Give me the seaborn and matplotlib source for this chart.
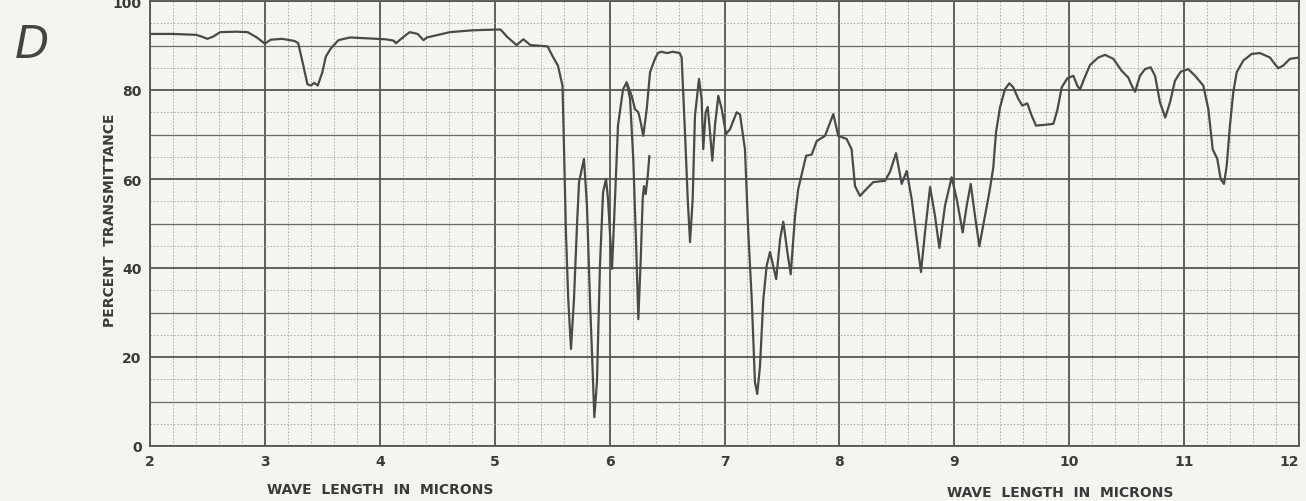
import matplotlib
matplotlib.use("Agg")
import matplotlib.pyplot as plt
import pandas as pd
import seaborn as sns
from matplotlib.ticker import MultipleLocator

# first pen trace (ends in the short retrace near 6.3 microns)
wl_a = [2.00, 2.20, 2.40, 2.45, 2.50, 2.55, 2.61, 2.75, 2.85, 2.93, 3.00, 3.05,
        3.15, 3.26, 3.29, 3.33, 3.37, 3.40, 3.43, 3.46, 3.50, 3.53, 3.57, 3.64,
        3.74, 3.90, 4.05, 4.12, 4.14, 4.20, 4.26, 4.33, 4.38, 4.41, 4.61, 4.80,
        4.90, 5.05, 5.11, 5.19, 5.25, 5.31, 5.46, 5.51, 5.55, 5.59, 5.60, 5.62,
        5.64, 5.664, 5.69, 5.716, 5.734, 5.777, 5.803, 5.829, 5.856, 5.867, 5.89,
        5.916, 5.943, 5.969, 5.986, 6.021, 6.047, 6.073, 6.117, 6.149, 6.178,
        6.206, 6.230, 6.250, 6.271, 6.288, 6.299, 6.314, 6.332, 6.346]
tr_a = [92.6, 92.6, 92.4, 92.0, 91.5, 92.0, 93.0, 93.1, 93.0, 91.8, 90.4, 91.3,
        91.5, 91.0, 90.5, 86.0, 81.3, 81.0, 81.6, 81.0, 84.0, 87.5, 89.2, 91.2,
        91.8, 91.6, 91.4, 91.1, 90.5, 91.8, 93.0, 92.6, 91.2, 91.8, 93.0, 93.4,
        93.5, 93.6, 91.9, 90.1, 91.4, 90.1, 89.8, 87.3, 85.5, 81.0, 70.5, 48.0,
        33.0, 21.8, 33.0, 49.5, 59.3, 64.5, 54.0, 33.0, 14.4, 6.5, 14.4,
        40.5, 57.0, 60.0, 55.5, 39.8, 55.5, 72.0, 80.2, 81.7, 78.0,
        64.5, 45.8, 28.5, 42.0, 55.5, 58.4, 56.6, 60.7, 65.2]

# second pen trace, 6.15 to 12 microns
wl_b = [6.149, 6.192, 6.221, 6.250, 6.271, 6.293, 6.323, 6.352, 6.395, 6.42,
        6.45, 6.50, 6.55, 6.61, 6.627, 6.656, 6.680, 6.700, 6.723, 6.743, 6.778,
        6.801, 6.815, 6.836, 6.854, 6.874, 6.894, 6.917, 6.946, 6.976, 7.013,
        7.048, 7.106, 7.135, 7.178, 7.207, 7.237, 7.265, 7.285, 7.309, 7.338,
        7.367, 7.396, 7.45, 7.484, 7.512, 7.547, 7.576, 7.614, 7.642, 7.710,
        7.759, 7.802, 7.875, 7.947, 7.990, 8.063, 8.106, 8.136, 8.179, 8.237,
        8.295, 8.397, 8.44, 8.493, 8.542, 8.586, 8.629, 8.673, 8.710, 8.745,
        8.789, 8.832, 8.870, 8.919, 8.977, 9.021, 9.073, 9.108, 9.143, 9.180,
        9.218, 9.267, 9.305, 9.339, 9.363, 9.398, 9.441, 9.479, 9.513, 9.557,
        9.592, 9.635, 9.674, 9.711, 9.80, 9.862, 9.896, 9.935, 9.983, 10.036,
        10.07, 10.094, 10.13, 10.181, 10.253, 10.312, 10.384, 10.457, 10.514,
        10.544, 10.573, 10.616, 10.660, 10.709, 10.747, 10.790, 10.836, 10.877,
        10.921, 10.970, 11.036, 11.095, 11.167, 11.211, 11.249, 11.289, 11.318,
        11.347, 11.371, 11.399, 11.428, 11.458, 11.515, 11.588, 11.660, 11.747,
        11.791, 11.820, 11.863, 11.921, 12.0]
tr_b = [81.7, 78.7, 75.7, 75.0, 72.7, 69.7, 75.7, 84.0, 87.0, 88.3,
        88.6, 88.3, 88.6, 88.3, 87.3, 70.5, 55.5, 45.8, 55.5, 74.2, 82.5,
        78.0, 66.7, 75.0, 76.2, 70.5, 64.1, 72.0, 78.7, 75.7, 70.1,
        71.2, 75.0, 74.5, 66.7, 48.0, 33.0, 14.4, 11.7, 18.0, 33.0,
        40.5, 43.6, 37.5, 46.5, 50.4, 43.6, 38.6, 51.7, 57.8, 65.2,
        65.5, 68.5, 69.7, 74.6, 69.7, 69.0, 66.7, 58.4, 56.2, 57.8,
        59.3, 59.6, 61.6, 65.8, 58.9, 61.8, 55.5, 46.5, 39.1, 48.0,
        58.2, 51.7, 44.5, 54.0, 60.4, 55.5, 48.0, 54.0, 58.9, 51.7,
        44.9, 51.7, 57.0, 62.5, 70.5, 76.1, 80.2, 81.5, 80.6, 78.0,
        76.5, 77.0, 74.2, 72.0, 72.2, 72.4, 75.4, 80.6, 82.6, 83.2,
        81.0, 80.1, 82.5, 85.6, 87.3, 87.9, 87.0, 84.3, 82.8,
        81.0, 79.6, 83.2, 84.7, 85.1, 83.2, 77.2, 73.8, 77.2,
        82.1, 84.1, 84.7, 83.2, 81.0, 75.7, 66.7, 64.5, 60.0,
        58.9, 63.0, 72.0, 79.5, 84.0, 86.6, 88.1, 88.3, 87.3,
        85.8, 84.9, 85.5, 87.0, 87.3]

x_ticks = [2, 3, 4, 5, 6, 7, 8, 9, 10, 11, 12]
y_ticks = [0, 20, 40, 60, 80, 100]

paper = "#f6f4f0"
ink = "#4a4a4a"

df = pd.concat([
    pd.DataFrame({"wl": wl_a, "tr": tr_a, "trace": "a"}),
    pd.DataFrame({"wl": wl_b, "tr": tr_b, "trace": "b"}),
])

sns.set_style("white", {"axes.facecolor": paper, "figure.facecolor": paper})
plt.rcParams["font.family"] = ["DejaVu Sans"]

fig = plt.figure(figsize=(13.06, 5.02), dpi=100)
ax = fig.add_axes([150 / 1306, 1 - 447 / 502, 1149 / 1306, 445 / 502])

ax.set_xlim(2, 12)
ax.set_ylim(0, 100)
ax.set_xticks(x_ticks)
ax.set_yticks(y_ticks)
ax.xaxis.set_minor_locator(MultipleLocator(0.2))
ax.yaxis.set_minor_locator(MultipleLocator(5))

ax.grid(which="major", color="#555555", lw=1.3, ls="-")
ax.grid(which="minor", color="#a5a5a5", lw=0.6, ls=(0, (2, 2)))
for v in [10, 30, 50, 70, 90]:
    ax.axhline(v, color="#6a6a6a", lw=0.9, zorder=0.6)
ax.set_axisbelow(True)

sns.lineplot(data=df, x="wl", y="tr", units="trace", estimator=None,
             color=ink, lw=1.6, sort=False, ax=ax, legend=False)

for s in ax.spines.values():
    s.set_color("#555555")
    s.set_linewidth(1.3)

ax.tick_params(which="both", length=0)
ax.tick_params(axis="y", pad=6)
ax.tick_params(axis="x", pad=6)
for lab in ax.get_xticklabels() + ax.get_yticklabels():
    lab.set_fontweight("bold")
    lab.set_fontsize(10)
    lab.set_color("#3a3a3a")
ax.get_xticklabels()[-1].set_ha("right")

ax.set_xlabel("")
ax.set_ylabel("")
ax.text(-0.035, 0.51, "PERCENT  TRANSMITTANCE", transform=ax.transAxes,
        rotation=90, ha="center", va="center", fontsize=10,
        fontweight="bold", color="#3a3a3a")
xt = ax.get_xaxis_transform()
ax.text(4.0, -0.097, "WAVE  LENGTH  IN  MICRONS", transform=xt, ha="center",
        va="center", fontsize=10, fontweight="bold", color="#3a3a3a")
ax.text(9.92, -0.104, "WAVE  LENGTH  IN  MICRONS", transform=xt, ha="center",
        va="center", fontsize=10, fontweight="bold", color="#3a3a3a")

fig.text(32 / 1306, 1 - 46 / 502, "D", fontsize=32, style="italic",
         color="#444444", ha="center", va="center")

fig.savefig("out.png", dpi=100, facecolor=paper)
